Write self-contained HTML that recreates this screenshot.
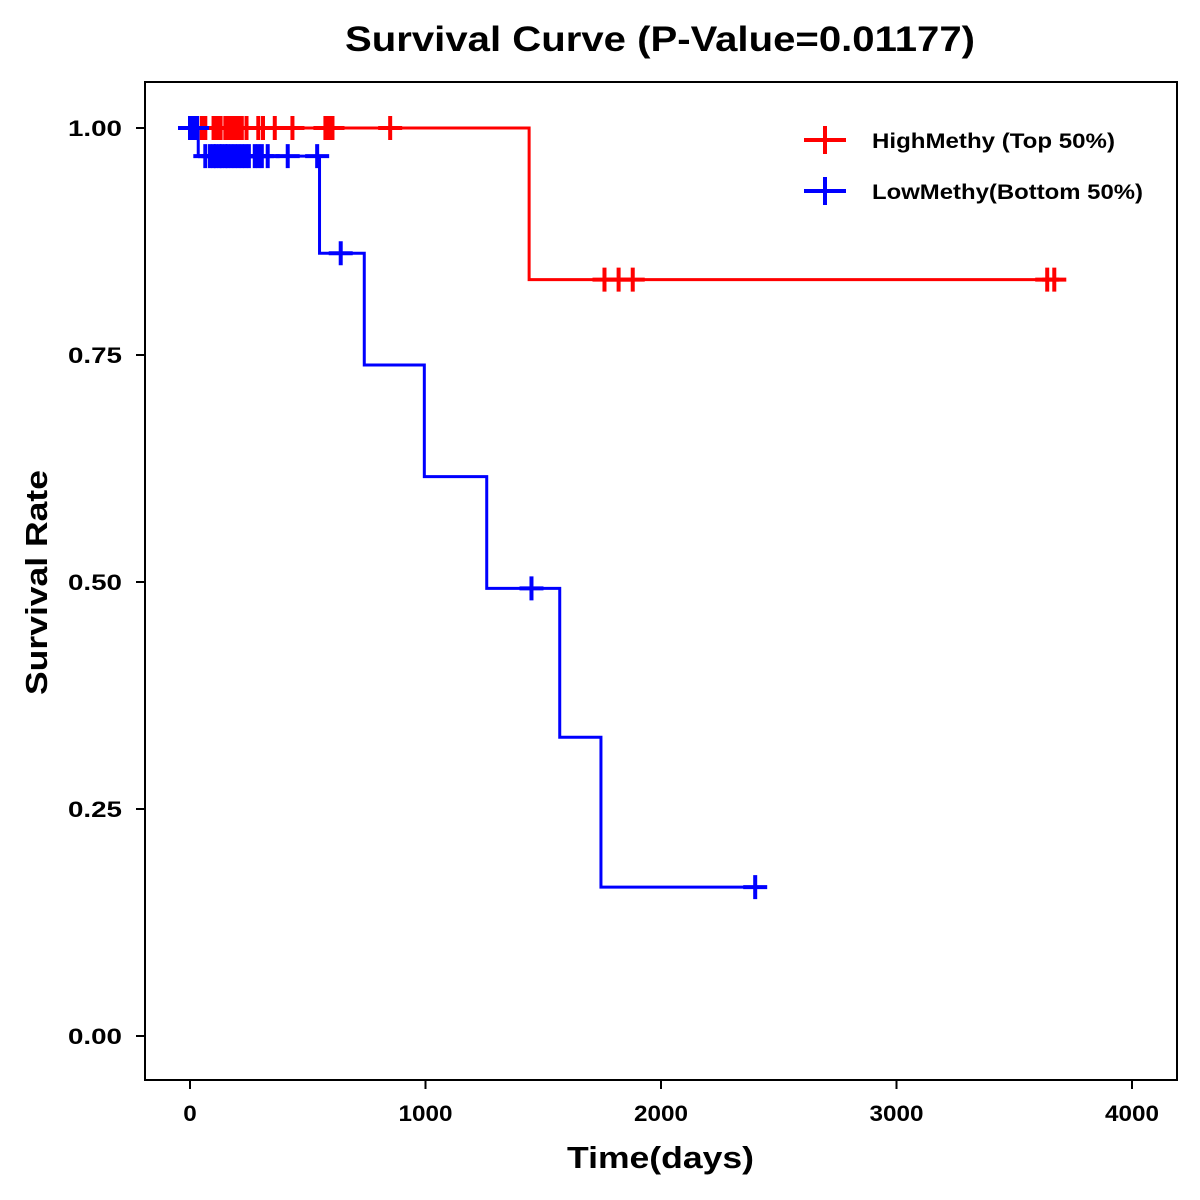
<!DOCTYPE html>
<html><head><meta charset="utf-8"><style>
html,body{margin:0;padding:0;background:#fff;}
svg{display:block;font-family:"Liberation Sans",Arial,sans-serif;}
</style></head><body>
<svg id="chart" width="1200" height="1200" viewBox="0 0 1200 1200">
<rect x="0" y="0" width="1200" height="1200" fill="#fff"/>
<text x="345" y="51" font-size="35" font-weight="bold" textLength="630" lengthAdjust="spacingAndGlyphs">Survival Curve (P-Value=0.01177)</text>
<rect x="145" y="82" width="1032" height="998" fill="none" stroke="#000" stroke-width="2"/>
<g id="axes"></g>
<g id="series"></g>
<text x="567" y="1168" font-size="31" font-weight="bold" textLength="187" lengthAdjust="spacingAndGlyphs">Time(days)</text>
<text transform="translate(47,695) rotate(-90)" font-size="31" font-weight="bold" textLength="225" lengthAdjust="spacingAndGlyphs">Survival Rate</text>
<g>
<g>
<line x1="804" y1="140" x2="846" y2="140" stroke="#f00" stroke-width="4"/><line x1="825" y1="126" x2="825" y2="154" stroke="#f00" stroke-width="4"/>
<text x="872" y="148" font-size="21" font-weight="bold" textLength="243" lengthAdjust="spacingAndGlyphs">HighMethy (Top 50%)</text></g>
<g>
<line x1="804" y1="191" x2="846" y2="191" stroke="#00f" stroke-width="4"/><line x1="825" y1="177" x2="825" y2="205" stroke="#00f" stroke-width="4"/>
<text x="872" y="199" font-size="21" font-weight="bold" textLength="271" lengthAdjust="spacingAndGlyphs">LowMethy(Bottom 50%)</text></g>
</g>
</svg>
<script>
const xTicks=[0,1000,2000,3000,4000];
const yTicks=[0,0.25,0.5,0.75,1.0];
const yTickLabels=["0.00","0.25","0.50","0.75","1.00"];
const highTimes=[0,1440,3700];
const highSurv=[1.0,0.833,0.833];
const highCensor=[0,10,20,30,50,65,100,115,130,150,165,180,195,210,220,240,290,310,360,435,575,585,595,605,850,1760,1820,1880,3640,3670];
const lowTimes=[0,35,550,740,995,1260,1570,1745,2400];
const lowSurv=[1.0,0.969,0.862,0.739,0.616,0.493,0.329,0.164,0.164];
const lowCensor1=[0,10,20,30];
const lowCensor=[65,85,100,110,125,135,150,160,175,190,205,220,235,250,275,290,305,330,415,540];
const lowCensorLater=[640,1450,2400];
const xs=d=>190+d*0.2355, ys=v=>1036-v*908;
const NS="http://www.w3.org/2000/svg";
const ax=document.getElementById('axes'), se=document.getElementById('series');
function mk(p,tag,at){const e=document.createElementNS(NS,tag);for(const k in at)e.setAttribute(k,at[k]);p.appendChild(e);return e;}
xTicks.forEach(t=>{
 const l=mk(ax,'line',{x1:xs(t),x2:xs(t),y1:1080,y2:1089,stroke:'#000','stroke-width':2});
 
 
 const s=String(t);
 const tx=mk(ax,'text',{x:xs(t),y:1121,'text-anchor':'middle','font-size':22,'font-weight':'bold',textLength:s.length*13.5,lengthAdjust:'spacingAndGlyphs'});
 tx.textContent=s;
 
 
});
yTicks.forEach((t,i)=>{
 const l=mk(ax,'line',{x1:136,x2:145,y1:ys(t),y2:ys(t),stroke:'#000','stroke-width':2});
 
 
 const tx=mk(ax,'text',{x:122,y:ys(t)+8,'text-anchor':'end','font-size':22,'font-weight':'bold',textLength:54,lengthAdjust:'spacingAndGlyphs'});
 tx.textContent=yTickLabels[i];
 
 
});
function stepPath(T,S){let d='M'+xs(T[0])+','+ys(S[0]);for(let i=1;i<T.length;i++){d+=' H'+xs(T[i])+' V'+ys(S[i]);}return d;}
function survAt(T,S,t){let v=S[0];for(let i=0;i<T.length;i++){if(T[i]<=t)v=S[i];}return v;}
function marks(C,T,S,col,name,fixed){C.forEach(c=>{const v=fixed!==undefined?fixed:survAt(T,S,c);const x=xs(c),y=ys(v);
 const g=mk(se,'path',{d:`M${x-12},${y} H${x+12} M${x},${y-12} V${y+12}`,stroke:col,'stroke-width':4,fill:'none'});
 
 });}
const lp=mk(se,'path',{d:stepPath(lowTimes,lowSurv),stroke:'#00f','stroke-width':3,fill:'none'});


const hp=mk(se,'path',{d:stepPath(highTimes,highSurv),stroke:'#f00','stroke-width':3,fill:'none'});


marks(lowCensor,lowTimes,lowSurv,'#00f','low-censor-mark');
marks(lowCensorLater,lowTimes,lowSurv,'#00f','low-censor-mark');
marks(highCensor,highTimes,highSurv,'#f00','high-censor-mark');
marks(lowCensor1,lowTimes,lowSurv,'#00f','low-censor-mark',1.0);
</script>
</body></html>
